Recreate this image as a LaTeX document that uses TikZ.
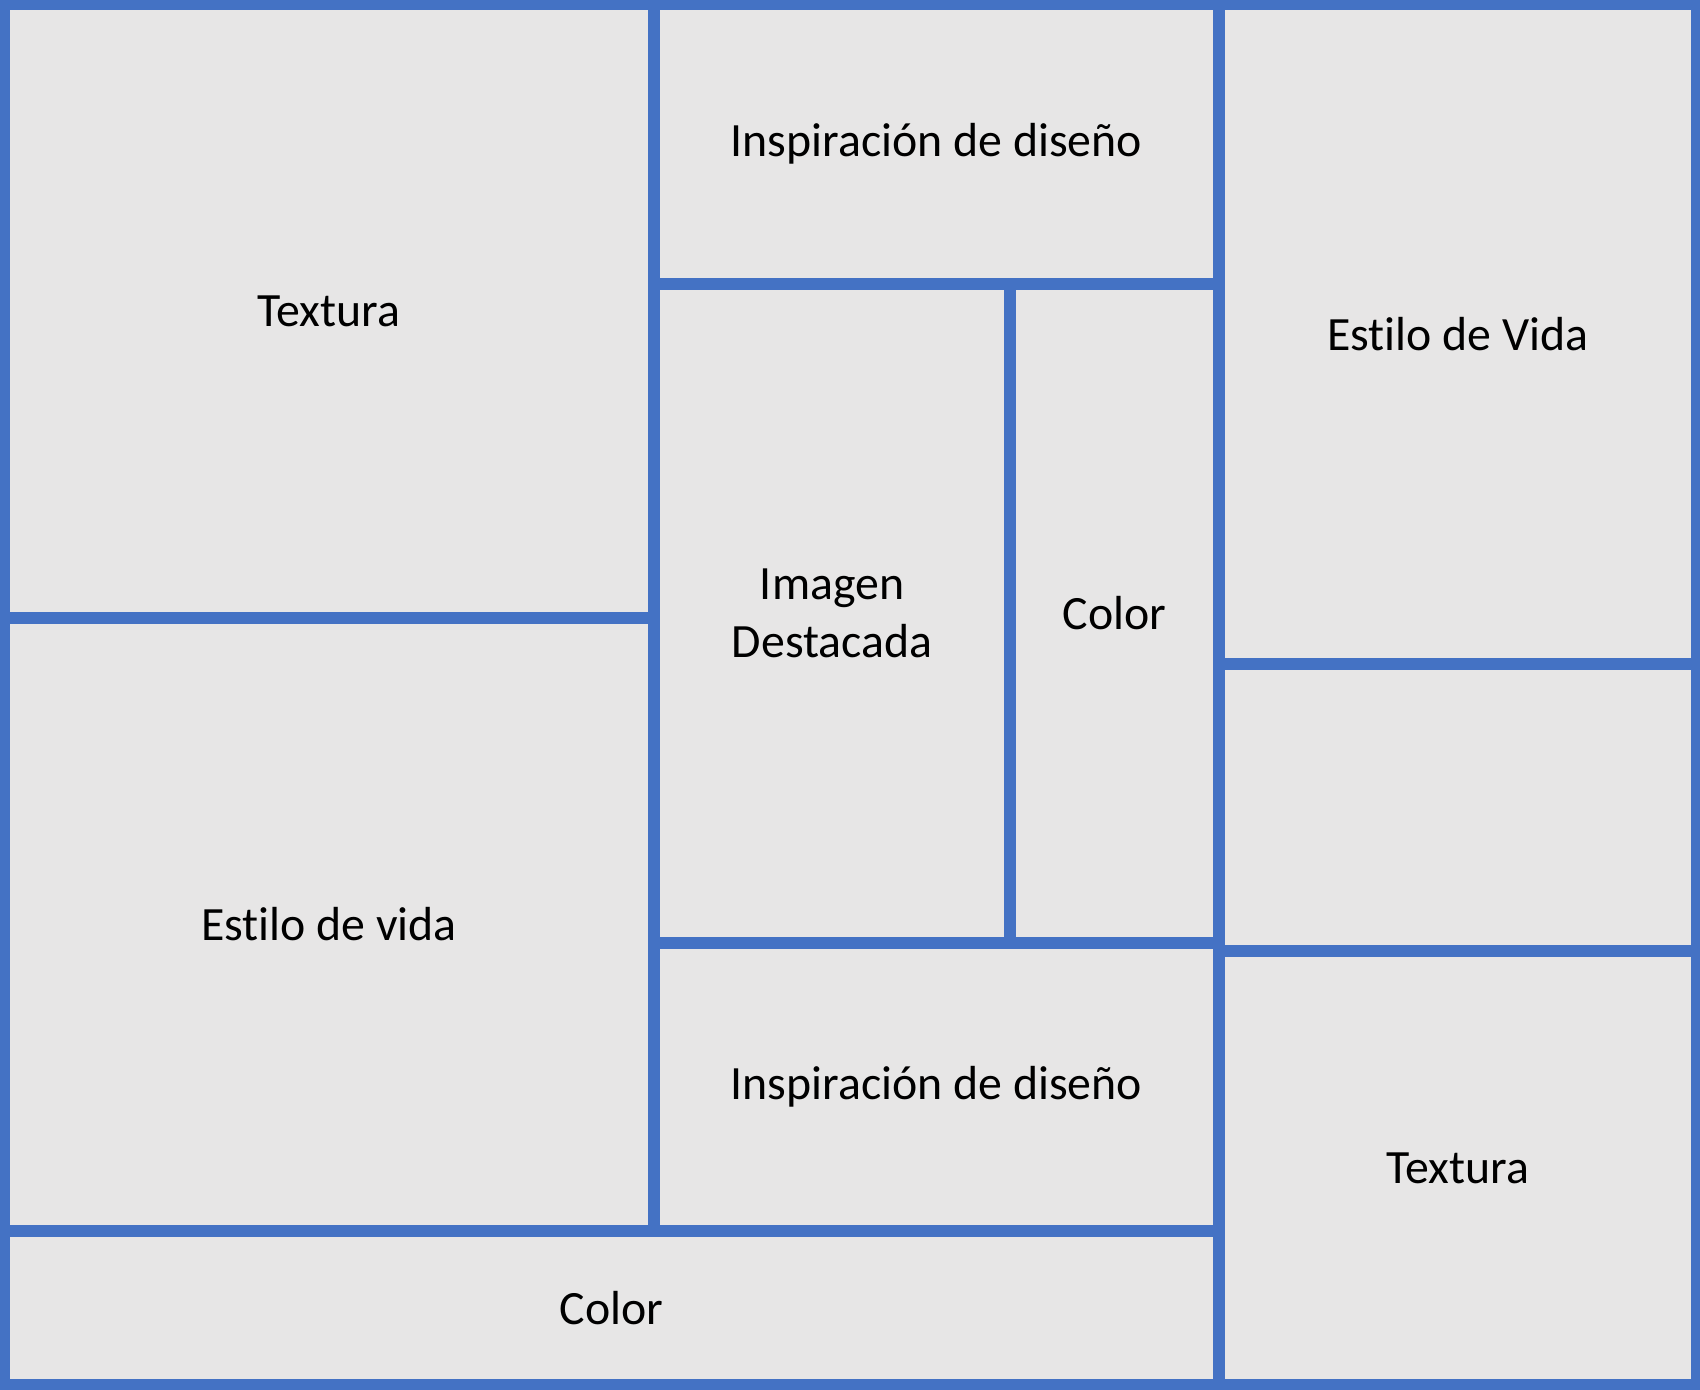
\documentclass[tikz,border=0pt]{standalone}
\usepackage{fontspec}
\setmainfont{Carlito}[RawFeature={-liga;-calt;-clig;-dlig}]
\definecolor{frame}{HTML}{4472C4}
\definecolor{cellbg}{HTML}{E7E6E6}

\begin{document}
\begin{tikzpicture}[x=0.1mm,y=-0.1mm,font=\fontsize{13.6}{16.4}\selectfont,
 cell/.style={draw=frame,fill=cellbg,line width=1.25mm,align=center,inner sep=0pt}]
\clip (0,0) rectangle (1700,1389);
\node[cell,minimum width=65mm,minimum height=61.4mm] (texL) at (329,311) {Textura};
\node[cell,minimum width=65mm,minimum height=61.3mm] (vidaL) at (329,924.5) {Estilo de vida};
\node[cell,minimum width=121.5mm,minimum height=15.4mm] (colorB) at (611.5,1308) {Color};
\node[cell,minimum width=56.5mm,minimum height=28mm] (inspT) at (936.5,144) {Inspiración de diseño};
\node[cell,minimum width=35.6mm,minimum height=65.9mm] (img) at (832,613.5) {Imagen\\Destacada};
\node[cell,minimum width=20.9mm,minimum height=65.9mm] (colorM) at (1114.5,613.5) {Color};
\node[cell,minimum width=56.5mm,minimum height=28.8mm] (inspB) at (936.5,1087) {Inspiración de diseño};
\node[cell,minimum width=47.8mm,minimum height=66mm] (vidaR) at (1458,334) {Estilo de Vida};
\node[cell,minimum width=47.8mm,minimum height=28.7mm] (blank) at (1458,807.5) {};
\node[cell,minimum width=47.8mm,minimum height=43.4mm] (texR) at (1458,1168) {Textura};
\end{tikzpicture}
\end{document}
